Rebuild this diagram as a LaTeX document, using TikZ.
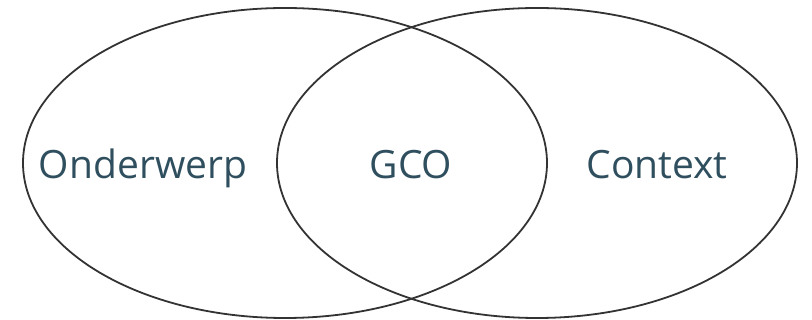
\documentclass[tikz,border=0pt]{standalone}
\usepackage{fontspec}
\setmainfont{Open Sans}
\usepackage{tikz}
\definecolor{labelblue}{HTML}{2F4F5F}
\definecolor{ringgray}{HTML}{333333}

\begin{document}
\begin{tikzpicture}[x=1pt,y=-1pt,
    ring/.style={draw=ringgray,line width=1.8pt},
    setlabel/.style={text=labelblue,font=\fontsize{39}{46}\selectfont,inner sep=0pt,anchor=base}]

    \useasboundingbox (0,0) rectangle (812,320);

    \draw[ring] (285,163) ellipse [x radius=262, y radius=155];
    \draw[ring] (537,163) ellipse [x radius=260, y radius=155];

    \node[setlabel] (onderwerp) at (143,179) {Onderwerp};
    \node[setlabel] (gco) at (411,179) {GCO};
    \node[setlabel] (context) at (657,179) {Context};

\end{tikzpicture}
\end{document}
